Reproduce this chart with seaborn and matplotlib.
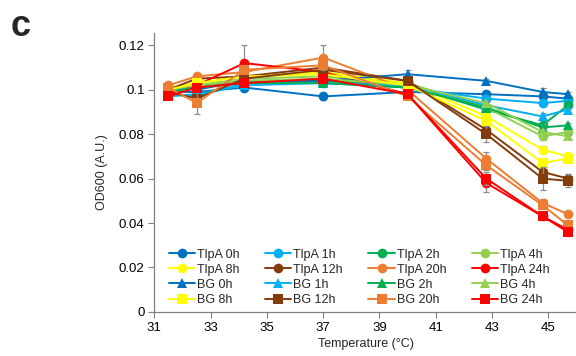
import matplotlib
matplotlib.use("Agg")
import matplotlib.pyplot as plt
from matplotlib.ticker import FuncFormatter
import seaborn as sns
import pandas as pd

# Temperatures of the gradient block (°C)
temperature = [31.5, 32.5, 34.2, 37.0, 40.0, 42.8, 44.8, 45.7]

# OD600 means for the TlpA samples at each incubation time
tlpa_0h = [0.099, 0.099, 0.101, 0.097, 0.099, 0.098, 0.097, 0.096]
tlpa_1h = [0.098, 0.097, 0.103, 0.103, 0.101, 0.096, 0.094, 0.095]
tlpa_2h = [0.100, 0.101, 0.104, 0.104, 0.102, 0.091, 0.084, 0.093]
tlpa_4h = [0.100, 0.102, 0.105, 0.106, 0.103, 0.092, 0.079, 0.081]
tlpa_8h = [0.101, 0.103, 0.106, 0.108, 0.103, 0.088, 0.073, 0.070]
tlpa_12h = [0.100, 0.105, 0.106, 0.110, 0.104, 0.082, 0.063, 0.060]
tlpa_20h = [0.102, 0.106, 0.108, 0.1145, 0.100, 0.069, 0.049, 0.044]
tlpa_24h = [0.098, 0.102, 0.112, 0.108, 0.098, 0.058, 0.043, 0.037]

# OD600 means for the BG samples at each incubation time
bg_0h = [0.101, 0.100, 0.104, 0.104, 0.107, 0.104, 0.099, 0.098]
bg_1h = [0.097, 0.098, 0.102, 0.103, 0.102, 0.093, 0.088, 0.091]
bg_2h = [0.099, 0.101, 0.103, 0.103, 0.101, 0.092, 0.083, 0.084]
bg_4h = [0.100, 0.102, 0.104, 0.105, 0.102, 0.094, 0.081, 0.079]
bg_8h = [0.100, 0.103, 0.106, 0.107, 0.102, 0.086, 0.067, 0.069]
bg_12h = [0.099, 0.096, 0.105, 0.109, 0.104, 0.080, 0.060, 0.059]
bg_20h = [0.101, 0.094, 0.109, 0.111, 0.097, 0.066, 0.048, 0.039]
bg_24h = [0.097, 0.101, 0.103, 0.105, 0.098, 0.060, 0.043, 0.036]

# Standard deviations
tlpa_0h_sd = [0.001, 0.001, 0.001, 0.0015, 0.001, 0.001, 0.001, 0.001]
tlpa_1h_sd = [0.001, 0.001, 0.001, 0.001, 0.001, 0.0015, 0.0015, 0.001]
tlpa_2h_sd = [0.001, 0.001, 0.001, 0.001, 0.001, 0.0015, 0.0015, 0.001]
tlpa_4h_sd = [0.001, 0.001, 0.001, 0.001, 0.001, 0.0015, 0.0015, 0.001]
tlpa_8h_sd = [0.001, 0.001, 0.001, 0.001, 0.001, 0.0015, 0.0015, 0.001]
tlpa_12h_sd = [0.001, 0.001, 0.001, 0.001, 0.001, 0.0035, 0.003, 0.002]
tlpa_20h_sd = [0.0015, 0.001, 0.002, 0.0055, 0.001, 0.003, 0.002, 0.001]
tlpa_24h_sd = [0.001, 0.001, 0.008, 0.002, 0.001, 0.004, 0.001, 0.001]
bg_0h_sd = [0.002, 0.001, 0.001, 0.001, 0.002, 0.001, 0.002, 0.001]
bg_1h_sd = [0.001, 0.001, 0.001, 0.001, 0.001, 0.0015, 0.0015, 0.001]
bg_2h_sd = [0.001, 0.001, 0.001, 0.001, 0.001, 0.0015, 0.0015, 0.001]
bg_4h_sd = [0.001, 0.001, 0.001, 0.001, 0.001, 0.0015, 0.0015, 0.001]
bg_8h_sd = [0.001, 0.001, 0.001, 0.001, 0.001, 0.0015, 0.0015, 0.001]
bg_12h_sd = [0.001, 0.001, 0.001, 0.001, 0.001, 0.0035, 0.005, 0.003]
bg_20h_sd = [0.001, 0.005, 0.002, 0.002, 0.001, 0.002, 0.001, 0.001]
bg_24h_sd = [0.001, 0.001, 0.001, 0.001, 0.001, 0.003, 0.001, 0.002]

times = ["0h", "1h", "2h", "4h", "8h", "12h", "20h", "24h"]
time_colors = ["#0070C0", "#00B0F0", "#00B050", "#92D050",
               "#FFFF00", "#843C0C", "#ED7D31", "#FF0000"]

tlpa_means = [tlpa_0h, tlpa_1h, tlpa_2h, tlpa_4h, tlpa_8h, tlpa_12h, tlpa_20h, tlpa_24h]
tlpa_sds = [tlpa_0h_sd, tlpa_1h_sd, tlpa_2h_sd, tlpa_4h_sd, tlpa_8h_sd,
            tlpa_12h_sd, tlpa_20h_sd, tlpa_24h_sd]
bg_means = [bg_0h, bg_1h, bg_2h, bg_4h, bg_8h, bg_12h, bg_20h, bg_24h]
bg_sds = [bg_0h_sd, bg_1h_sd, bg_2h_sd, bg_4h_sd, bg_8h_sd, bg_12h_sd, bg_20h_sd, bg_24h_sd]

sns.set_style("white")
plt.rcParams["font.family"] = ["Liberation Sans", "DejaVu Sans"]

fig = plt.figure(figsize=(5.76, 3.56), dpi=100)
ax = fig.add_axes([0.268, 0.124, 0.735, 0.783])

series = []
for t, c, m, s in zip(times, time_colors, tlpa_means, tlpa_sds):
    series.append(("TlpA " + t, c, "o", m, s))
for t, c, m, s in zip(times, time_colors, bg_means, bg_sds):
    marker = "^" if t in ("0h", "1h", "2h", "4h") else "s"
    series.append(("BG " + t, c, marker, m, s))

z = 3
for label, color, marker, mean, sd in series:
    df = pd.DataFrame({"Temperature": temperature, "OD600": mean})
    ax.errorbar(temperature, mean, yerr=sd, fmt="none", ecolor="#8c8c8c",
                elinewidth=0.9, capsize=2.2, capthick=0.9, zorder=z)
    sns.lineplot(data=df, x="Temperature", y="OD600", ax=ax, color=color,
                 marker=marker, markersize=7, markeredgewidth=0,
                 linewidth=1.4, label=label, zorder=z + 1, sort=False)
    z += 2

ax.set_xlim(31, 46.05)
ax.set_ylim(0, 0.1255)
ax.set_xticks([31, 33, 35, 37, 39, 41, 43, 45])
ax.set_yticks([0, 0.02, 0.04, 0.06, 0.08, 0.1, 0.12])
ax.yaxis.set_major_formatter(FuncFormatter(lambda v, p: f"{v:g}"))
ax.tick_params(axis="both", labelsize=9.5, colors="#000000", length=4,
               width=0.8, direction="out", left=True, bottom=True, pad=3)
ax.tick_params(axis="both", color="#7f7f7f")
for side in ("top", "right"):
    ax.spines[side].set_visible(False)
for side in ("left", "bottom"):
    ax.spines[side].set_color("#7f7f7f")
    ax.spines[side].set_linewidth(0.9)

ax.set_xlabel("Temperature (°C)", fontsize=9, labelpad=3)
ax.set_ylabel("OD600 (A.U.)", fontsize=9, labelpad=8)

# Legend laid out row by row: TlpA early, TlpA late, BG early, BG late
handles, labels = ax.get_legend_handles_labels()
order = []
for col in range(4):
    order += [col, col + 4, col + 8, col + 12]
ax.legend([handles[i] for i in order], [labels[i] for i in order],
          ncol=4, loc="upper left", bbox_to_anchor=(0.022, 0.245),
          frameon=False, fontsize=9, handlelength=2.1, handletextpad=0.15,
          columnspacing=2.05, labelspacing=0.25, borderaxespad=0)

fig.text(0.018, 0.898, "c", fontsize=26, fontweight="bold", ha="left", va="baseline")

fig.savefig("out.png", dpi=100)
